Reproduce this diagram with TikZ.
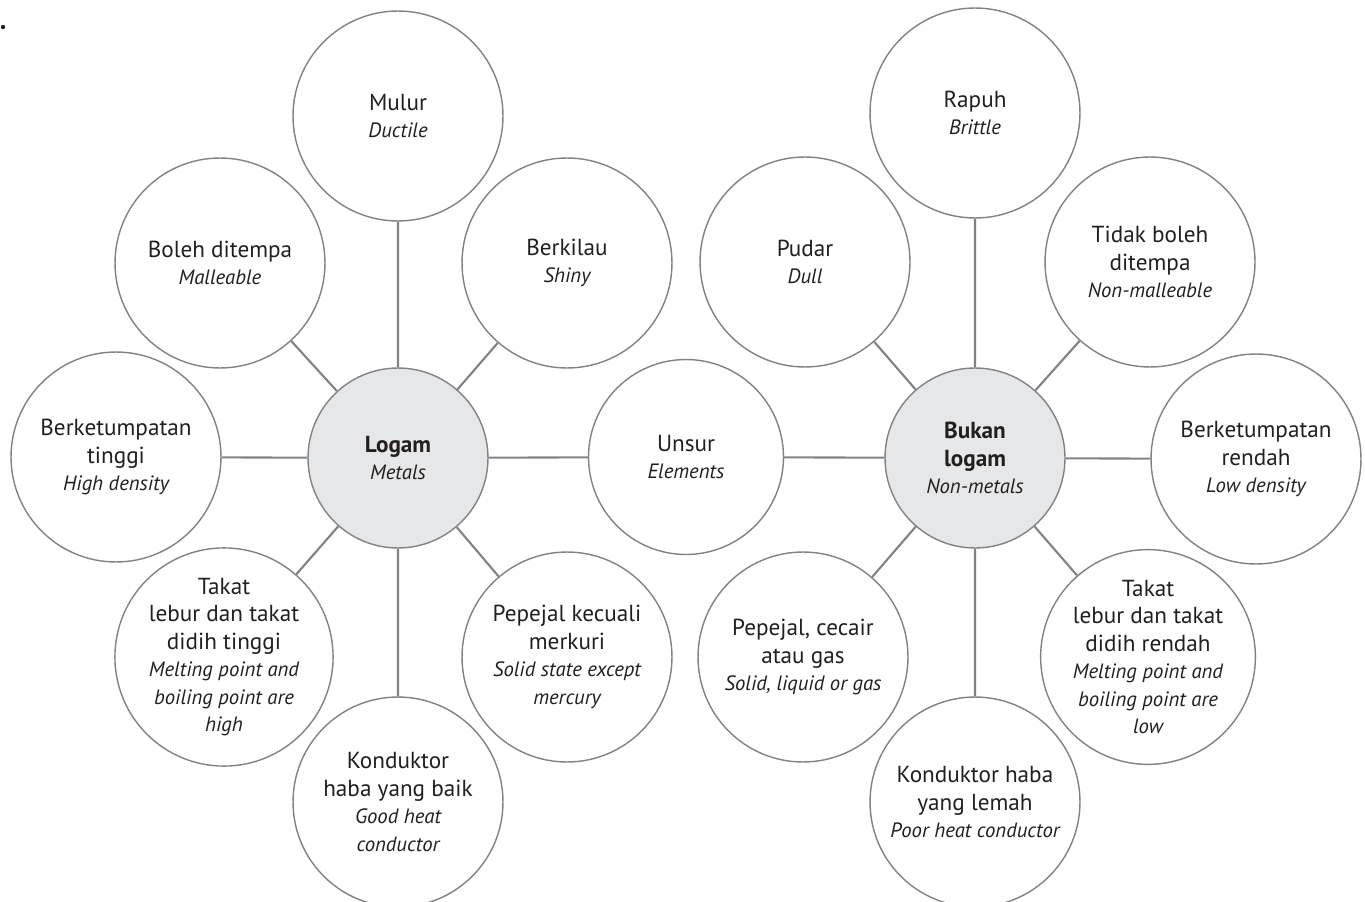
\documentclass[tikz,border=0pt]{standalone}
\usepackage{fontspec}
\setmainfont{PT Sans}
\usetikzlibrary{positioning}
\definecolor{rimgray}{HTML}{808285}
\definecolor{corefill}{HTML}{E6E7E8}
\definecolor{inkblack}{HTML}{231F20}
\newcommand{\eng}{\fontsize{11.8}{14}\selectfont\itshape}
\tikzstyle{bubble}=[circle, draw=rimgray, line width=0.8pt, fill=white, inner sep=0pt, minimum size=4.2cm, align=center, text=inkblack, font=\fontsize{13.2}{15.6}\selectfont]
\tikzstyle{core}=[bubble, fill=corefill, minimum size=3.6cm]
\tikzstyle{link}=[draw=rimgray, line width=1.2pt]

\begin{document}
\begin{tikzpicture}[x=0.02cm, y=-0.02cm]
\useasboundingbox (0,0) rectangle (1365,902);
\fill[inkblack] (3,27) circle (2.2);
% logam
\node[core] (logam) at (398,458) {\textbf{Logam}\\\eng Metals};
\node[bubble] (mulur) at (398,116) {Mulur\\\eng Ductile};
\node[bubble] (tempa) at (220,263) {Boleh ditempa\\\eng Malleable};
\node[bubble] (kilau) at (567,263) {Berkilau\\\eng Shiny};
\node[bubble] (tinggi) at (116,457) {Berketumpatan\\tinggi\\\eng High density};
\node[bubble] (takat) at (224,657) {Takat\\lebur dan takat\\didih tinggi\\\eng Melting point and\\\eng boiling point are\\\eng high};
\node[bubble] (baik) at (398,802) {Konduktor\\haba yang baik\\\eng Good heat\\\eng conductor};
\node[bubble] (pepejal) at (567,657) {Pepejal kecuali\\merkuri\\\eng Solid state except\\\eng mercury};
\node[bubble, minimum size=3.9cm] (unsur) at (686,457) {Unsur\\\eng Elements};
% bukan logam
\node[core] (bukan) at (975,458) {\textbf{Bukan}\\\textbf{logam}\\\eng Non-metals};
\node[bubble] (rapuh) at (975,113) {Rapuh\\\eng Brittle};
\node[bubble] (pudar) at (805,262) {Pudar\\\eng Dull};
\node[bubble] (tidak) at (1150,262) {Tidak boleh\\ditempa\\\eng Non-malleable};
\node[bubble] (rendah) at (1256,459) {Berketumpatan\\rendah\\\eng Low density};
\node[bubble] (takatr) at (1148,657) {Takat\\lebur dan takat\\didih rendah\\\eng Melting point and\\\eng boiling point are\\\eng low};
\node[bubble] (lemah) at (975,802) {Konduktor haba\\yang lemah\\\eng Poor heat conductor};
\node[bubble] (cecair) at (803,657) {Pepejal, cecair\\atau gas\\\eng Solid, liquid or gas};

\draw[link] (logam)--(mulur) (logam)--(tempa) (logam)--(kilau) (logam)--(tinggi);
\draw[link] (logam)--(takat) (logam)--(baik) (logam)--(pepejal) (logam)--(unsur);
\draw[link] (unsur)--(bukan);
\draw[link] (bukan)--(rapuh) (bukan)--(pudar) (bukan)--(tidak) (bukan)--(rendah);
\draw[link] (bukan)--(takatr) (bukan)--(lemah) (bukan)--(cecair);
\end{tikzpicture}
\end{document}
